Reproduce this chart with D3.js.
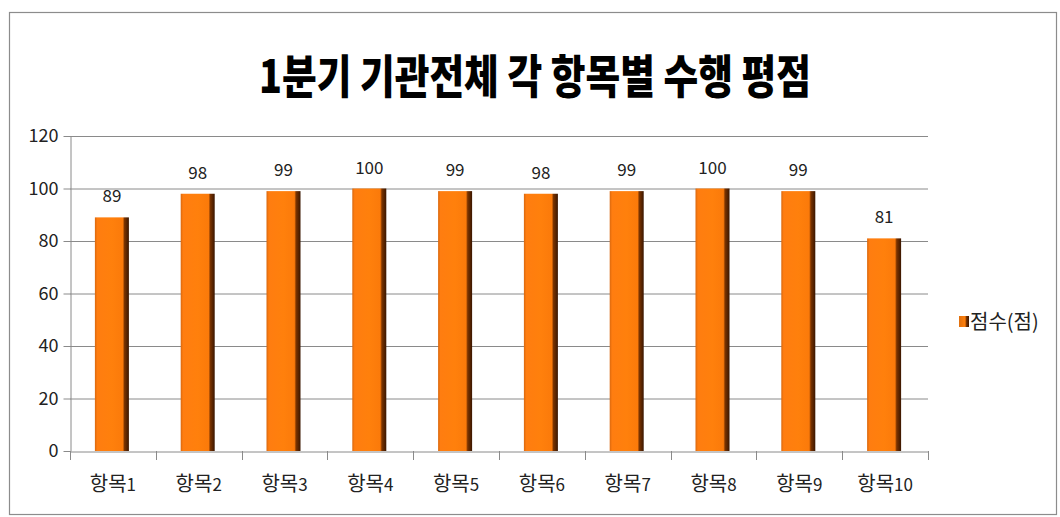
<!DOCTYPE html>
<html><head><meta charset="utf-8">
<script src="https://cdn.jsdelivr.net/npm/d3@7/dist/d3.min.js"></script>
<style>body{margin:0;background:#fff}svg{display:block}</style>
</head><body>
<svg id="c" width="1060" height="517"></svg>
<script>
const title = "1분기 기관전체 각 항목별 수행 평점";
const categories = ["항목1","항목2","항목3","항목4","항목5","항목6","항목7","항목8","항목9","항목10"];
const values = [89,98,99,100,99,98,99,100,99,81];
const yTicks = [0,20,40,60,80,100,120];
const seriesName = "점수(점)";

(function(){
const svg = d3.select("#c");
const font = "'Noto Sans CJK KR','Malgun Gothic',sans-serif";
const pLeft = 70, pRight = 928, pTop = 136, pBottom = 451;

// outer border
svg.append("rect").attr("x",9.5).attr("y",12.5).attr("width",1047).attr("height",502)
  .attr("fill","#fff").attr("stroke","#8c8c8c").attr("stroke-width",1.2);

// gradient for bars
const defs = svg.append("defs");
const g = defs.append("linearGradient").attr("id","bar").attr("x1","0").attr("x2","1").attr("y1","0").attr("y2","0");
[["0%","#d9680f"],["7%","#ff7d10"],["50%","#ff800c"],["82%","#fb7a0a"],["87%","#7a3300"],["100%","#3a1600"]]
  .forEach(([o,c])=>g.append("stop").attr("offset",o).attr("stop-color",c));
const lg = defs.append("linearGradient").attr("id","leg").attr("x1","0").attr("x2","1");
[["0%","#e0700f"],["60%","#ff800c"],["75%","#7a3300"],["100%","#3a1600"]]
  .forEach(([o,c])=>lg.append("stop").attr("offset",o).attr("stop-color",c));

// title
svg.append("text").attr("x",535).attr("y",93).attr("text-anchor","middle")
  .attr("font-family",font).attr("font-weight",900).attr("font-size",46)
  .attr("textLength",552).attr("lengthAdjust","spacingAndGlyphs")
  .attr("fill","#000").text(title);

const x = d3.scaleBand().domain(categories).range([pLeft,pRight]).paddingInner(0).paddingOuter(0);
const y = d3.scaleLinear().domain([0,120]).range([pBottom,pTop]);

// gridlines
svg.append("g").selectAll("line").data(yTicks.filter(d=>d>0)).join("line")
  .attr("x1",pLeft).attr("x2",pRight).attr("y1",d=>y(d)+0.5).attr("y2",d=>y(d)+0.5)
  .attr("stroke","#8a8a8a").attr("stroke-width",1);

// y axis
const ya = svg.append("g").attr("transform",`translate(${pLeft+0.5},0)`)
  .call(d3.axisLeft(y).tickValues(yTicks).tickSize(7).tickPadding(5).tickSizeOuter(0));
ya.select(".domain").attr("stroke","#8a8a8a");
ya.selectAll(".tick line").attr("stroke","#8a8a8a");
ya.selectAll("text").attr("font-family",font).attr("font-size",18).attr("fill","#222");

// bars
const bw = 34;
svg.append("g").selectAll("rect").data(values).join("rect")
  .attr("x",(d,i)=>x(categories[i])+x.bandwidth()/2-bw/2-1)
  .attr("width",bw)
  .attr("y",d=>y(d))
  .attr("height",d=>pBottom-y(d))
  .attr("fill","url(#bar)");

// x axis
const xa = svg.append("g").attr("transform",`translate(0,${pBottom+0.5})`)
  .call(d3.axisBottom(x).tickSize(0).tickFormat(""));
xa.select(".domain").attr("stroke","#8a8a8a");
const bounds = categories.map(c=>x(c)).concat([pRight]);
svg.append("g").selectAll("line").data(bounds).join("line")
  .attr("x1",d=>Math.round(d)+0.5).attr("x2",d=>Math.round(d)+0.5)
  .attr("y1",pBottom).attr("y2",pBottom+9).attr("stroke","#8a8a8a");

// x labels
const xl = svg.append("g").selectAll("text").data(categories).join("text")
  .attr("x",d=>x(d)+x.bandwidth()/2).attr("y",491).attr("text-anchor","middle")
  .attr("font-family",font).attr("font-size",20).attr("fill","#222");
xl.each(function(d){
  const t = d3.select(this);
  t.append("tspan").text(d.replace(/\d+$/,""));
  t.append("tspan").attr("font-size",17).text(d.match(/\d+$/)[0]);
});

// value labels
svg.append("g").selectAll("text").data(values).join("text")
  .attr("x",(d,i)=>x(categories[i])+x.bandwidth()/2-1).attr("y",d=>y(d)-15)
  .attr("text-anchor","middle").attr("font-family",font).attr("font-size",17)
  .attr("fill","#222").text(d=>d);

// legend
svg.append("rect").attr("x",959).attr("y",316).attr("width",10).attr("height",11).attr("fill","url(#leg)");
svg.append("text").attr("x",970).attr("y",329).attr("font-family",font).attr("font-size",20)
  .attr("fill","#222").text(seriesName);
})();
</script>
</body></html>
